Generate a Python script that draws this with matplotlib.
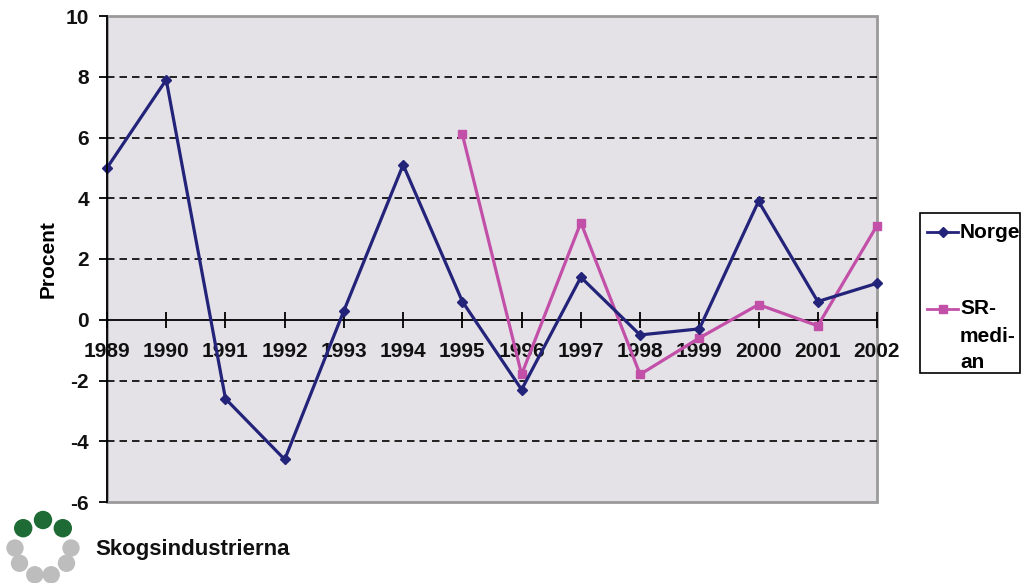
import matplotlib.pyplot as plt
from matplotlib.lines import Line2D
from matplotlib.patches import Rectangle, Ellipse
import numpy as np

plt.rcParams["font.family"] = ["Liberation Sans", "DejaVu Sans"]

years = list(range(1989, 2003))
norge = [5.0, 7.9, -2.6, -4.6, 0.3, 5.1, 0.6, -2.3, 1.4, -0.5, -0.3, 3.9, 0.6, 1.2]
sr_years = list(range(1995, 2003))
sr_median = [6.1, -1.8, 3.2, -1.8, -0.6, 0.5, -0.2, 3.1]
yticks = [-6, -4, -2, 0, 2, 4, 6, 8, 10]

navy = "#23237a"
magenta = "#c24fa8"
border = "#9a9a9a"
W, H = 1025, 583

fig = plt.figure(figsize=(W / 100, H / 100), dpi=100)
ax = fig.add_axes([107 / W, 81 / H, 770 / W, 486 / H])
ax.set_facecolor("#e4e2e7")

ax.set_xlim(years[0], years[-1])
ax.set_ylim(-6, 10)
ax.set_yticks(yticks)
ax.set_yticklabels([str(v) for v in yticks])
ax.set_xticks(years)
ax.set_xticklabels([str(y) for y in years])

# dashed grid at every 2, except the frame lines
for v in yticks:
    if v not in (-6, 0, 10):
        ax.axhline(v, color="black", lw=1.2, ls=(0, (4.5, 3)), zorder=1)

ax.plot(years, norge, color=navy, lw=2.3, marker="D", ms=5, zorder=4, clip_on=False)
ax.plot(sr_years, sr_median, color=magenta, lw=2.3, marker="s", ms=6, zorder=3, clip_on=False)

# frame: grey border, black left axis, x axis at zero
for s in ("top", "right"):
    ax.spines[s].set_visible(False)
ax.add_patch(Rectangle((0, 0), 1, 1, transform=ax.transAxes, fill=False,
                       edgecolor=border, lw=2, zorder=0.5, clip_on=False))
ax.spines["left"].set_color("black")
ax.spines["left"].set_linewidth(1.3)
ax.spines["left"].set_zorder(5)
ax.spines["bottom"].set_position(("data", 0))
ax.spines["bottom"].set_color("black")
ax.spines["bottom"].set_linewidth(1.3)
ax.spines["bottom"].set_zorder(2)

ax.tick_params(axis="y", direction="out", length=6, width=1.3, labelsize=15, pad=7)
ax.tick_params(axis="x", direction="inout", length=12, width=1.3, labelsize=15, pad=10)
for lab in ax.get_xticklabels() + ax.get_yticklabels():
    lab.set_fontweight("bold")
    lab.set_color("#111111")

ax.set_ylabel("Procent", fontsize=15, fontweight="bold", labelpad=6)

# legend box
fig.add_artist(Rectangle((920 / W, 1 - 373 / H), 100 / W, 160 / H,
                         transform=fig.transFigure, fill=False, edgecolor="black", lw=1.2))
fig.add_artist(Line2D([927 / W, 958 / W], [1 - 232 / H] * 2, color=navy, lw=2,
                      transform=fig.transFigure))
fig.add_artist(Line2D([942.5 / W], [1 - 232 / H], color=navy, marker="D", ms=5,
                      transform=fig.transFigure))
fig.text(960 / W, 1 - 232 / H, "Norge", fontsize=15, fontweight="bold", va="center")
fig.add_artist(Line2D([927 / W, 958 / W], [1 - 309 / H] * 2, color=magenta, lw=2,
                      transform=fig.transFigure))
fig.add_artist(Line2D([942.5 / W], [1 - 309 / H], color=magenta, marker="s", ms=6,
                      transform=fig.transFigure))
for i, t in enumerate(["SR-", "medi-", "an"]):
    fig.text(960 / W, 1 - (309 + 27 * i) / H, t, fontsize=15, fontweight="bold", va="center")

# company logo
cx, cy, r = 43, 548, 28
for ang, col, d in [(45, "#1e6b35", 17), (90, "#1e6b35", 17), (135, "#1e6b35", 17),
                    (0, "#bdbdbd", 16), (180, "#bdbdbd", 16), (213, "#bdbdbd", 16),
                    (327, "#bdbdbd", 16), (253, "#bdbdbd", 16), (287, "#bdbdbd", 16)]:
    a = np.radians(ang)
    fig.add_artist(Ellipse(((cx + r * np.cos(a)) / W, 1 - (cy - r * np.sin(a)) / H),
                           d / W, d / H, transform=fig.transFigure, color=col))
fig.text(95 / W, 1 - 549 / H, "Skogsindustrierna", fontsize=16, fontweight="bold",
         va="center", color="#111111")

fig.savefig("out.png", dpi=100)
